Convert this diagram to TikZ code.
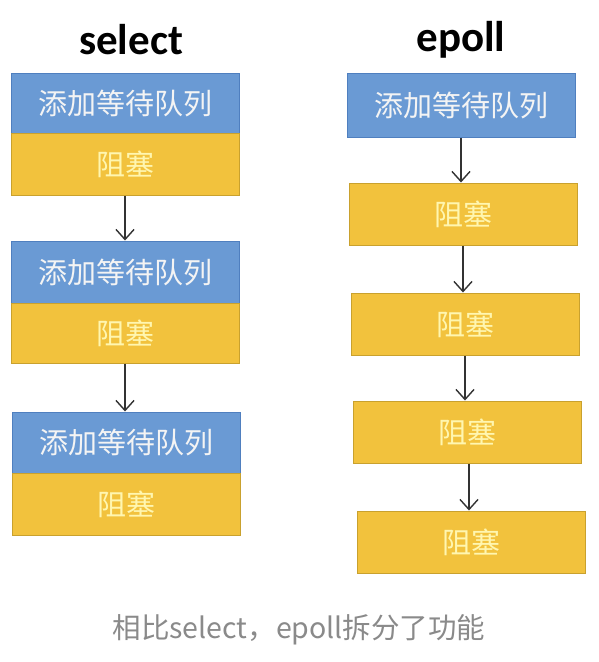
\documentclass[tikz,border=0pt]{standalone}
\usepackage{fontspec}
\setmainfont{Carlito}
\newfontfamily\cjk{Noto Sans CJK SC}
\usetikzlibrary{arrows.meta}
\definecolor{bfill}{HTML}{6A9AD4}
\definecolor{bdraw}{HTML}{4F7FBF}
\definecolor{yfill}{HTML}{F2C23D}
\definecolor{ydraw}{HTML}{C9A12E}
\definecolor{ytext}{HTML}{FFF6B0}
\definecolor{btext}{HTML}{F4F4F4}
\definecolor{cap}{HTML}{8A8A8A}
\definecolor{arr}{HTML}{333333}
\begin{document}
\begin{tikzpicture}[x=1pt,y=-1pt,
  blbox/.style={draw=bdraw, fill=bfill, line width=1pt, minimum width=228pt, inner sep=0pt,
    text=btext, font=\cjk\fontsize{29}{29}\selectfont},
  ylbox/.style={draw=ydraw, fill=yfill, line width=1pt, minimum width=228pt, inner sep=0pt,
    text=ytext, font=\cjk\fontsize{29}{29}\selectfont},
  conn/.style={draw=arr, line width=1.4pt, -{Straight Barb[length=10pt,width=18pt,line width=1.4pt]}},
  ttl/.style={font=\bfseries\fontsize{43}{43}\selectfont, text=black, inner sep=0pt}
]
\useasboundingbox (0,0) rectangle (598,662);
\fill[white] (0,0) rectangle (598,662);

\node[ttl] (tsel) at (131,40) {select};
\node[ttl] (tepo) at (461,40) {epoll};

% left column
\node[blbox, minimum height=60pt] (b1) at (125,103) {添加等待队列};
\node[ylbox, minimum height=62pt] (y1) at (125,164) {阻塞};
\node[blbox, minimum height=62pt] (b2) at (125,272) {添加等待队列};
\node[ylbox, minimum height=60pt] (y2) at (125,333) {阻塞};
\node[blbox, minimum height=61pt] (b3) at (126,442.5) {添加等待队列};
\node[ylbox, minimum height=62pt] (y3) at (126,504) {阻塞};

\draw[conn] (y1.south) -- (b2.north);
\draw[conn] (y2.south) -- (y2.south |- b3.north);

% right column
\node[blbox, minimum height=64pt] (rb) at (461,105) {添加等待队列};
\node[ylbox, minimum height=62pt] (r1) at (463,214) {阻塞};
\node[ylbox, minimum height=62pt] (r2) at (465,324) {阻塞};
\node[ylbox, minimum height=62pt] (r3) at (467,432) {阻塞};
\node[ylbox, minimum height=62pt] (r4) at (471,542) {阻塞};

\draw[conn] (rb.south) -- (rb.south |- r1.north);
\draw[conn] (r1.south) -- (r1.south |- r2.north);
\draw[conn] (r2.south) -- (r2.south |- r3.north);
\draw[conn] (r3.south) ++(2,0) coordinate (r3s) -- (r3s |- r4.north);

\node[font=\cjk\fontsize{28.5}{28.5}\selectfont, text=cap, inner sep=0pt] (caption) at (299,630) {相比select，epoll拆分了功能};
\end{tikzpicture}
\end{document}
